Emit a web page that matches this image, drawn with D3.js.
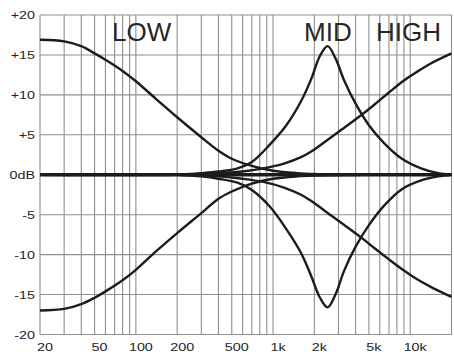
<!DOCTYPE html>
<meta charset="utf-8">
<script src="https://d3js.org/d3.v7.min.js"></script>
<style>
  body { margin: 0; background: #fff; }
  text { font-family: "Liberation Sans", Arial, Helvetica, sans-serif; fill: #262626; }
</style>
<div id="chart"></div>
<script>

// frequency (Hz) / gain (dB)
var lowFreq  = [20, 30, 40, 50, 60, 80, 100, 140, 200, 300, 400, 500, 700, 1000, 1500, 2000, 5000, 20000];
var lowBoost = [16.9, 16.7, 16.1, 15.2, 14.4, 13.0, 11.7, 9.5, 7.2, 4.7, 3.0, 2.0, 1.1, 0.5, 0.2, 0.1, 0, 0];
var lowCut   = [-17.0, -16.8, -16.2, -15.4, -14.6, -13.2, -11.9, -9.6, -7.3, -4.8, -3.0, -2.1, -1.1, -0.5, -0.2, -0.1, 0, 0];

var midFreq  = [200, 300, 400, 550, 700, 950, 1250, 1600, 1900, 2200, 2500, 2850, 3300, 4000, 5000, 6500, 8700, 12000, 16000, 20000];
var midBoost = [0, 0.2, 0.4, 0.8, 1.6, 3.8, 6.2, 9.2, 12.0, 14.9, 16.1, 14.6, 11.8, 8.9, 6.2, 3.9, 2.0, 0.8, 0.2, 0];
var midCut   = [0, -0.2, -0.5, -1.0, -1.9, -4.0, -6.8, -9.8, -12.7, -15.4, -16.6, -15.0, -12.0, -9.0, -6.3, -3.8, -1.8, -0.7, -0.2, 0];

var highFreq  = [20, 200, 400, 600, 850, 1200, 1600, 1900, 2700, 3500, 4500, 5500, 7000, 9000, 11000, 14000, 20000];
var highBoost = [0, 0, 0.2, 0.4, 0.8, 1.4, 2.2, 2.9, 4.8, 6.2, 7.6, 8.8, 10.3, 11.8, 12.8, 13.9, 15.2];
var highCut   = [0, 0, -0.2, -0.5, -0.9, -1.6, -2.5, -3.3, -5.2, -6.6, -8.0, -9.2, -10.6, -12.0, -13.0, -14.0, -15.3];

var flatFreq = [20, 20000];
var flatGain = [0, 0];

// axes
var gridFreqs = [20, 30, 40, 50, 60, 70, 80, 90, 100, 200, 300, 400, 500, 600, 700, 800, 900,
                 1000, 2000, 3000, 4000, 5000, 6000, 7000, 8000, 9000, 10000, 20000];
var xTickValues = [20, 50, 100, 200, 500, 1000, 2000, 5000, 10000];
var xTickLabels = ["20", "50", "100", "200", "500", "1k", "2k", "5k", "10k"];
var yTickValues = [20, 15, 10, 5, 0, -5, -10, -15, -20];
var yTickLabels = ["+20", "+15", "+10", "+5", "0dB", "-5", "-10", "-15", "-20"];
var bandNames = ["LOW", "MID", "HIGH"];

var W = 454, H = 354;
var margin = {top: 15, right: 2.5, bottom: 19.5, left: 40};

var svg = d3.select("#chart")
  .append("svg")
    .attr("width", W)
    .attr("height", H);

var x = d3.scaleLog()
  .domain([20, 20000])
  .range([margin.left, W - margin.right]);

var y = d3.scaleLinear()
  .domain([-20, 20])
  .range([H - margin.bottom, margin.top]);

// grid
svg.append("g")
  .selectAll("line")
  .data(gridFreqs)
  .enter()
  .append("line")
    .attr("x1", function(d) { return x(d) })
    .attr("x2", function(d) { return x(d) })
    .attr("y1", y(20))
    .attr("y2", y(-20))
    .attr("stroke", "#8f8f8f")
    .attr("stroke-width", 1.1);

svg.append("g")
  .selectAll("line")
  .data(yTickValues)
  .enter()
  .append("line")
    .attr("x1", x(20))
    .attr("x2", x(20000))
    .attr("y1", function(d) { return y(d) })
    .attr("y2", function(d) { return y(d) })
    .attr("stroke", "#8f8f8f")
    .attr("stroke-width", 1.1);

// tick labels, stretched like the original print
svg.append("g")
  .selectAll("text")
  .data(yTickValues)
  .enter()
  .append("text")
    .attr("transform", function(d) { return "translate(35," + y(d) + ") scale(1.25,1)" })
    .attr("dy", "0.36em")
    .attr("text-anchor", "end")
    .attr("font-size", "11.5px")
    .text(function(d, i) { return yTickLabels[i] });

svg.append("g")
  .selectAll("text")
  .data(xTickValues)
  .enter()
  .append("text")
    .attr("transform", function(d) { return "translate(" + (x(d) + 5) + ",351) scale(1.25,1)" })
    .attr("text-anchor", "middle")
    .attr("font-size", "11.5px")
    .text(function(d, i) { return xTickLabels[i] });

// curves
var line = d3.line()
  .x(function(d) { return x(d[0]) })
  .y(function(d) { return y(d[1]) })
  .curve(d3.curveCatmullRom.alpha(0.5));

function pairs(fs, gs) { return fs.map(function(f, i) { return [f, gs[i]] }) }

svg.append("path")
  .datum(pairs(flatFreq, flatGain))
  .attr("d", line)
  .attr("fill", "none")
  .attr("stroke", "#1c1c1c")
  .attr("stroke-width", 3.5);

var curves = [
  pairs(lowFreq, lowBoost), pairs(lowFreq, lowCut),
  pairs(midFreq, midBoost), pairs(midFreq, midCut),
  pairs(highFreq, highBoost), pairs(highFreq, highCut)
];

svg.append("g")
  .selectAll("path")
  .data(curves)
  .enter()
  .append("path")
    .attr("d", line)
    .attr("fill", "none")
    .attr("stroke", "#1c1c1c")
    .attr("stroke-width", 2.4);

// band names
var bandX = [112, 304, 376];
svg.append("g")
  .selectAll("text")
  .data(bandNames)
  .enter()
  .append("text")
    .attr("x", function(d, i) { return bandX[i] })
    .attr("y", 41)
    .attr("font-size", "26px")
    .text(function(d) { return d });

</script>
